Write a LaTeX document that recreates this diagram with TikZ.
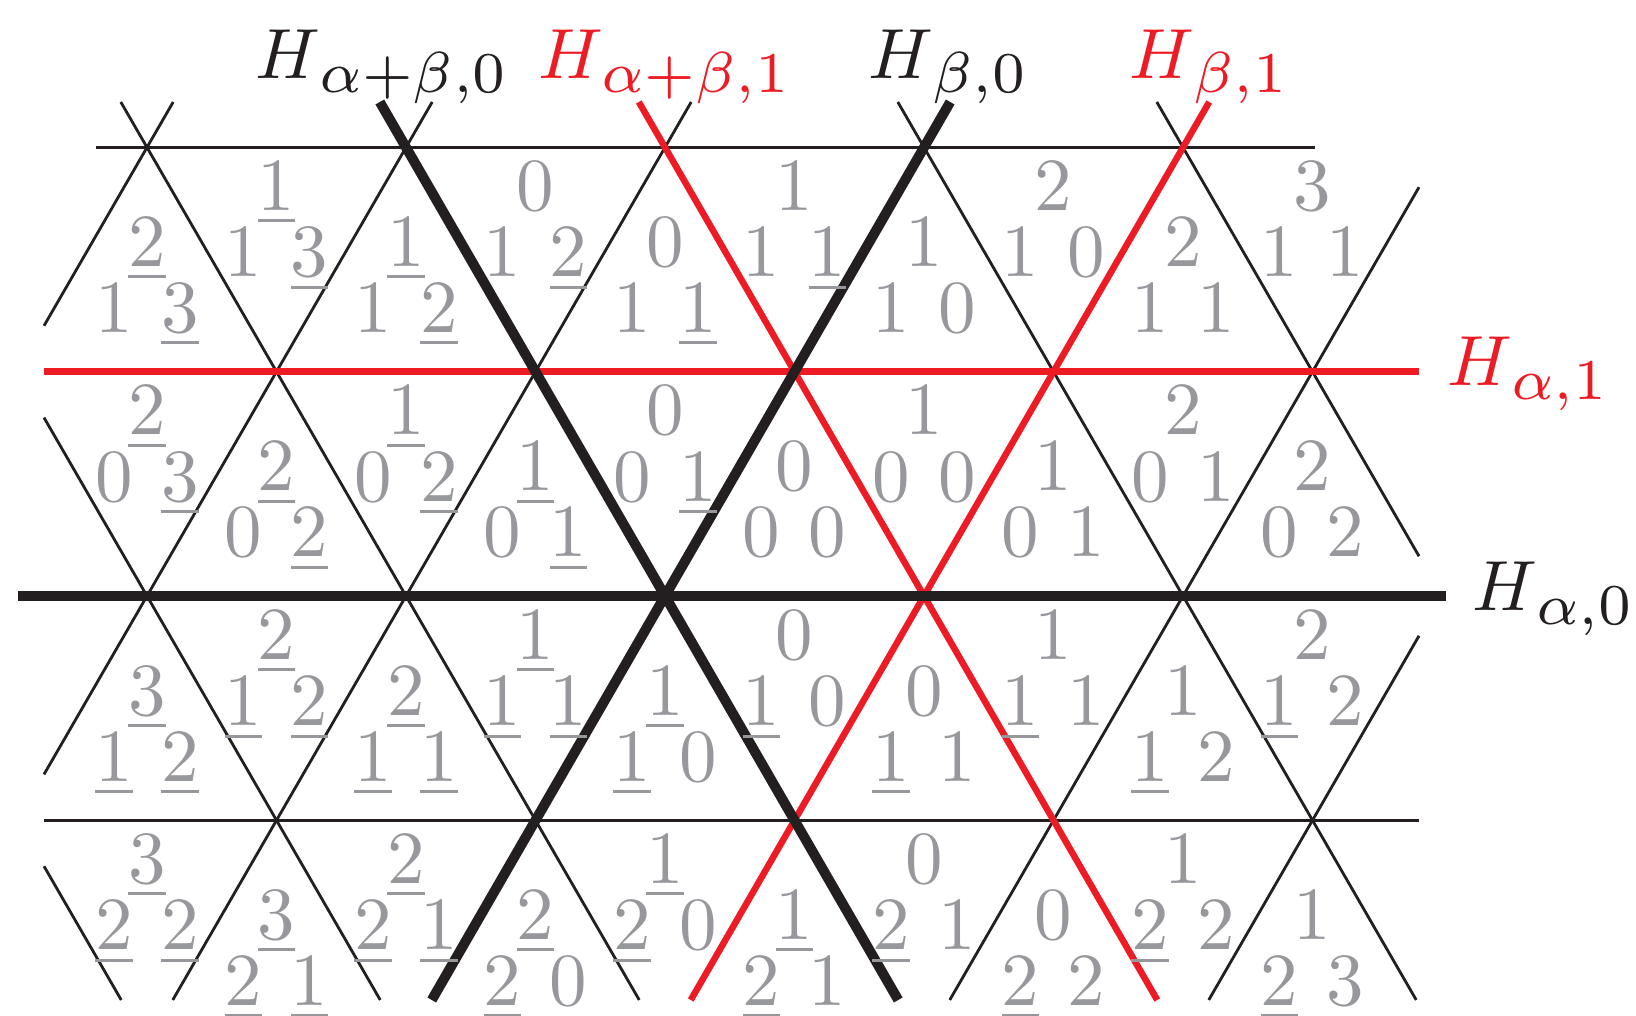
\documentclass[tikz,border=0pt]{standalone}
\definecolor{hred}{RGB}{237,28,36}
\definecolor{hblk}{RGB}{35,31,32}
\definecolor{dgray}{RGB}{150,152,156}
\newcommand{\ngv}[1]{\underline{#1}}
\newcommand{\dg}[1]{\scalebox{7.5}{$#1$}}
\newcommand{\hlab}[1]{\scalebox{7.1}{$H$}\kern-1pt\raisebox{-14pt}{\scalebox{8.25}{$\scriptstyle #1$}}}
\newcount\dcnt
\tikzset{
  thinl/.style={draw=hblk, line width=2.8pt},
  redl/.style={draw=hred, line width=6.5pt},
  thickl/.style={draw=hblk, line width=10pt},
  dig/.style={anchor=base, inner sep=0pt, text=dgray},
  lab/.style={anchor=base west, inner sep=0pt},
}
% up triangle: #1 x, #2 row top y, #3 top digit, #4 bottom-left, #5 bottom-right
\newcommand{\upt}[5]{%
  \global\advance\dcnt by 1
  \node[dig] (t\the\dcnt) at (#1,#2+119) {\dg{#3}};
  \node[dig] (l\the\dcnt) at (#1-33,#2+185) {\dg{#4}};
  \node[dig] (r\the\dcnt) at (#1+33,#2+185) {\dg{#5}};}
\newcommand{\dnt}[5]{%
  \global\advance\dcnt by 1
  \node[dig] (t\the\dcnt) at (#1,#2+63) {\dg{#3}};
  \node[dig] (l\the\dcnt) at (#1-33,#2+129.5) {\dg{#4}};
  \node[dig] (r\the\dcnt) at (#1+33,#2+129.5) {\dg{#5}};}
\begin{document}
\begin{tikzpicture}[x=1pt,y=-1pt]
\useasboundingbox (0,0) rectangle (1636,1016);
\clip (0,0) rectangle (1636,1016);
% thin lattice lines
\draw[thinl] (96,147.2) -- (1315,147.2);
\draw[thinl] (44,820.4) -- (1419,820.4);
\draw[thinl] (44,325.8) -- (173.2,102);
\draw[thinl] (44,774.4) -- (432.2,102);
\draw[thinl] (172.75,1000) -- (691.2,102);
\draw[thinl] (949.75,1000) -- (1419,187.2);
\draw[thinl] (1208.75,1000) -- (1419,635.8);
\draw[thinl] (44,866.2) -- (121.25,1000);
\draw[thinl] (44,417.6) -- (380.25,1000);
\draw[thinl] (120.8,102) -- (639.25,1000);
\draw[thinl] (897.8,102) -- (1416.25,1000);
\draw[thinl] (1156.8,102) -- (1419,556.2);
% red walls
\draw[redl] (44,371.6) -- (1419,371.6);
\draw[redl] (690.75,1000) -- (1209.2,102);
\draw[redl] (638.8,102) -- (1157.25,1000);
% thick walls
\draw[thickl] (18,596) -- (1446,596);
\draw[thickl] (431.75,1000) -- (950.2,102);
\draw[thickl] (379.8,102) -- (898.25,1000);
% row 1
\upt{147}{147.2}{\ngv2}{1}{\ngv3}
\dnt{276.5}{147.2}{\ngv1}{1}{\ngv3}
\upt{406}{147.2}{\ngv1}{1}{\ngv2}
\dnt{535.5}{147.2}{0}{1}{\ngv2}
\upt{665}{147.2}{0}{1}{\ngv1}
\dnt{794.5}{147.2}{1}{1}{\ngv1}
\upt{924}{147.2}{1}{1}{0}
\dnt{1053.5}{147.2}{2}{1}{0}
\upt{1183}{147.2}{2}{1}{1}
\dnt{1312.5}{147.2}{3}{1}{1}
% row 2
\dnt{147}{371.6}{\ngv2}{0}{\ngv3}
\upt{276.5}{371.6}{\ngv2}{0}{\ngv2}
\dnt{406}{371.6}{\ngv1}{0}{\ngv2}
\upt{535.5}{371.6}{\ngv1}{0}{\ngv1}
\dnt{665}{371.6}{0}{0}{\ngv1}
\upt{794.5}{371.6}{0}{0}{0}
\dnt{924}{371.6}{1}{0}{0}
\upt{1053.5}{371.6}{1}{0}{1}
\dnt{1183}{371.6}{2}{0}{1}
\upt{1312.5}{371.6}{2}{0}{2}
% row 3
\upt{147}{596}{\ngv3}{\ngv1}{\ngv2}
\dnt{276.5}{596}{\ngv2}{\ngv1}{\ngv2}
\upt{406}{596}{\ngv2}{\ngv1}{\ngv1}
\dnt{535.5}{596}{\ngv1}{\ngv1}{\ngv1}
\upt{665}{596}{\ngv1}{\ngv1}{0}
\dnt{794.5}{596}{0}{\ngv1}{0}
\upt{924}{596}{0}{\ngv1}{1}
\dnt{1053.5}{596}{1}{\ngv1}{1}
\upt{1183}{596}{1}{\ngv1}{2}
\dnt{1312.5}{596}{2}{\ngv1}{2}
% row 4
\dnt{147}{820.4}{\ngv3}{\ngv2}{\ngv2}
\upt{276.5}{820.4}{\ngv3}{\ngv2}{\ngv1}
\dnt{406}{820.4}{\ngv2}{\ngv2}{\ngv1}
\upt{535.5}{820.4}{\ngv2}{\ngv2}{0}
\dnt{665}{820.4}{\ngv1}{\ngv2}{0}
\upt{794.5}{820.4}{\ngv1}{\ngv2}{1}
\dnt{924}{820.4}{0}{\ngv2}{1}
\upt{1053.5}{820.4}{0}{\ngv2}{2}
\dnt{1183}{820.4}{1}{\ngv2}{2}
\upt{1312.5}{820.4}{1}{\ngv2}{3}
% labels
\node[lab, text=hblk] (Hab0) at (255.4,78.3) {\hlab{\alpha+\beta,0}};
\node[lab, text=hred] (Hab1) at (538,78.3) {\hlab{\alpha+\beta,1}};
\node[lab, text=hblk] (Hb0) at (868.5,78.3) {\hlab{\beta,0}};
\node[lab, text=hred] (Hb1) at (1129.5,78.3) {\hlab{\beta,1}};
\node[lab, text=hred] (Ha1) at (1447,385) {\hlab{\alpha,1}};
\node[lab, text=hblk] (Ha0) at (1472,610) {\hlab{\alpha,0}};
\end{tikzpicture}
\end{document}
